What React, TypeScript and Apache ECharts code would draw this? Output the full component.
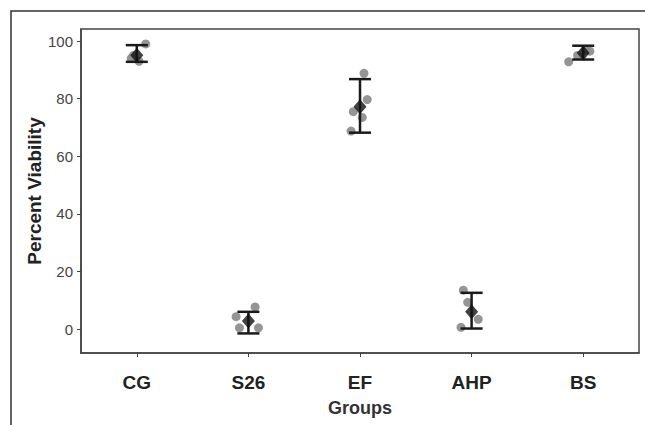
import React, { useEffect, useRef } from "react";
import * as echarts from "echarts";

const groups = ["CG", "S26", "EF", "AHP", "BS"];
const yTicks = [0, 20, 40, 60, 80, 100];
const means = [95.1, 2.8, 77.2, 6.0, 95.9];
const errLow = [92.8, -1.5, 68.2, 0.2, 93.6];
const errHigh = [98.6, 6.0, 86.8, 12.6, 98.4];
// individual observations: group index, horizontal jitter, value
const obsGroup = [0, 0, 0, 0, 1, 1, 1, 1, 2, 2, 2, 2, 2, 3, 3, 3, 3, 4, 4, 4, 4];
const obsJitter = [0.08, -0.03, 0.02, -0.05, 0.06, -0.11, -0.08, 0.09, 0.036, 0.065, -0.06, 0.02, -0.08, -0.074, -0.035, 0.06, -0.095, -0.13, -0.05, 0.06, 0.02];
const obsValue = [99, 95, 93, 94, 7.7, 4.3, 0.45, 0.45, 88.8, 79.7, 75.5, 73.5, 68.75, 13.5, 9.3, 3.4, 0.6, 92.8, 95, 96.5, 97];

export default function App() {
  const ref = useRef<HTMLDivElement>(null);
  useEffect(() => {
    const chart = echarts.init(ref.current!, null, { renderer: "svg" });
    const font = "'Liberation Sans', Arial, sans-serif";
    chart.setOption({
      animation: false,
      backgroundColor: "#ffffff",
      graphic: [
        {
          type: "rect",
          shape: { x: 11, y: 11, width: 660, height: 440 },
          style: { fill: "none", stroke: "#333", lineWidth: 1.5 },
          silent: true,
          z: 0,
        },
      ],
      grid: {
        left: 81,
        top: 29,
        width: 558,
        height: 324,
        show: true,
        borderColor: "#444",
        borderWidth: 1.5,
        backgroundColor: "transparent",
      },
      xAxis: [
        {
          type: "category",
          data: groups,
          boundaryGap: true,
          axisLine: { show: true, onZero: false, lineStyle: { color: "#444", width: 1.5 } },
          axisTick: { show: true, alignWithLabel: true, length: 4, lineStyle: { color: "#444" } },
          axisLabel: { margin: 20, fontSize: 19, fontWeight: "bold", color: "#222", fontFamily: font },
          name: "Groups",
          nameLocation: "middle",
          nameGap: 46,
          nameMoveOverlap: false,
          nameTextStyle: { fontSize: 18, fontWeight: "bold", color: "#333", fontFamily: font },
          splitLine: { show: false },
        },
        {
          type: "value",
          min: -0.5,
          max: 4.5,
          show: false,
          axisLine: { onZero: false },
        },
      ],
      yAxis: {
        type: "value",
        min: -8.3,
        max: 104.2,
        axisLine: { show: true, onZero: false, lineStyle: { color: "#444", width: 1.5 } },
        axisTick: { show: true, length: 4, customValues: yTicks, lineStyle: { color: "#444" } },
        axisLabel: { margin: 8, fontSize: 15, color: "#444", fontFamily: font, customValues: yTicks },
        splitLine: { show: false },
        name: "Percent Viability",
        nameLocation: "middle",
        nameGap: 37,
        nameMoveOverlap: false,
        nameTextStyle: { fontSize: 19, fontWeight: "bold", color: "#222", fontFamily: font },
      },
      series: [
        {
          type: "scatter",
          xAxisIndex: 1,
          data: obsValue.map((v, i) => [obsGroup[i] + obsJitter[i], v]),
          symbol: "circle",
          symbolSize: 9,
          itemStyle: { color: "#8a8a8a", opacity: 0.9 },
          z: 2,
        },
        {
          type: "custom",
          xAxisIndex: 0,
          data: groups.map((g, i) => [i, errLow[i], errHigh[i]]),
          renderItem: (params: any, api: any) => {
            const lo = api.coord([api.value(0), api.value(1)]);
            const hi = api.coord([api.value(0), api.value(2)]);
            const hw = 11;
            const style = { stroke: "#1a1a1a", lineWidth: 2.5 };
            return {
              type: "group",
              children: [
                { type: "line", shape: { x1: lo[0], y1: lo[1], x2: hi[0], y2: hi[1] }, style },
                { type: "line", shape: { x1: lo[0] - hw, y1: lo[1], x2: lo[0] + hw, y2: lo[1] }, style },
                { type: "line", shape: { x1: hi[0] - hw, y1: hi[1], x2: hi[0] + hw, y2: hi[1] }, style },
              ],
            };
          },
          z: 3,
        },
        {
          type: "scatter",
          xAxisIndex: 0,
          data: means.map((m, i) => [i, m]),
          symbol: "diamond",
          symbolSize: [13, 15],
          itemStyle: { color: "#111" },
          z: 4,
        },
      ],
    });
    return () => chart.dispose();
  }, []);
  return <div ref={ref} style={{ position: "fixed", left: 0, top: 0, width: 645, height: 425 }} />;
}
